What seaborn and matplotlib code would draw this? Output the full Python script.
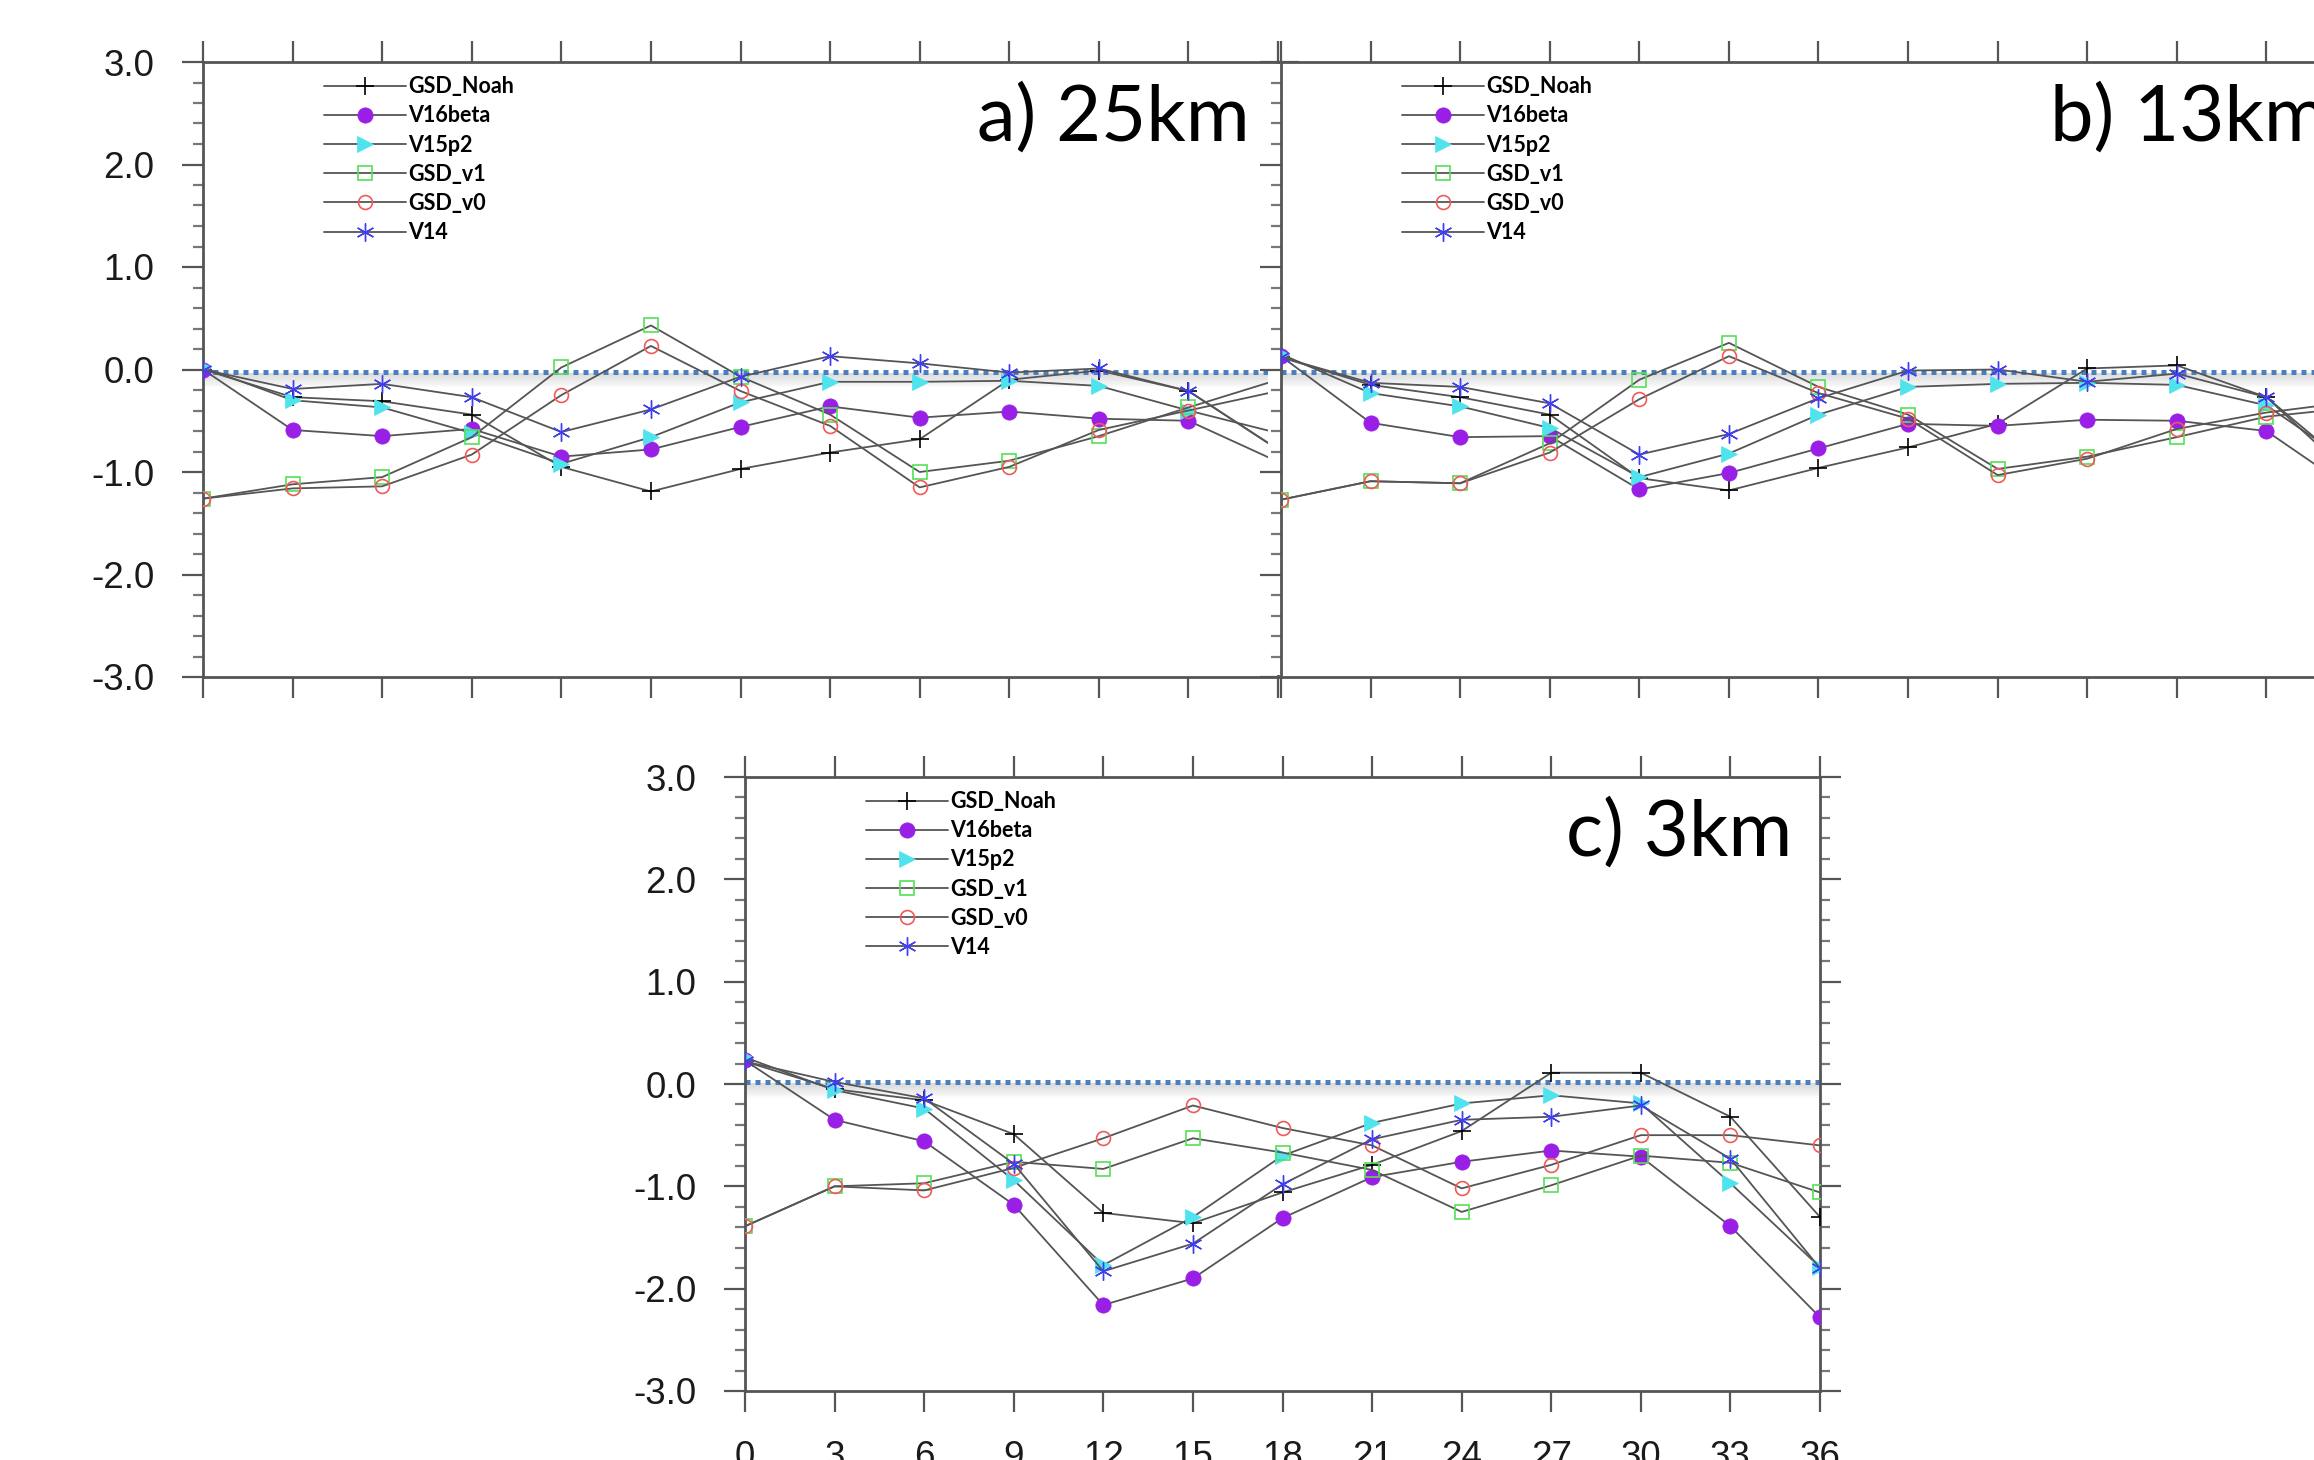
import matplotlib
matplotlib.use("Agg")
import matplotlib.pyplot as plt
from matplotlib.patches import Rectangle
from matplotlib.ticker import MultipleLocator, FormatStrFormatter
import seaborn as sns

# forecast hours
hours = [0, 3, 6, 9, 12, 15, 18, 21, 24, 27, 30, 33, 36]
names = ['GSD_Noah', 'V16beta', 'V15p2', 'GSD_v1', 'GSD_v0', 'V14']
y_ticks = [-3.0, -2.0, -1.0, 0.0, 1.0, 2.0, 3.0]

# a) 25km
a_noah = [0.0, -0.27, -0.31, -0.44, -0.95, -1.19, -0.97, -0.81, -0.68, -0.10, -0.01, -0.21, -0.78]
a_v16beta = [0.0, -0.59, -0.65, -0.58, -0.85, -0.78, -0.56, -0.36, -0.47, -0.41, -0.48, -0.50, -0.90]
a_v15p2 = [0.02, -0.30, -0.37, -0.62, -0.92, -0.66, -0.32, -0.12, -0.12, -0.11, -0.16, -0.40, -0.62]
a_gsd_v1 = [-1.26, -1.12, -1.05, -0.66, 0.02, 0.43, -0.07, -0.44, -1.00, -0.89, -0.65, -0.37, -0.10]
a_gsd_v0 = [-1.26, -1.16, -1.14, -0.83, -0.25, 0.23, -0.21, -0.55, -1.15, -0.95, -0.59, -0.40, -0.21]
a_v14 = [0.0, -0.19, -0.14, -0.27, -0.61, -0.39, -0.07, 0.13, 0.06, -0.03, 0.01, -0.21, -0.78]

# b) 13km
b_noah = [0.12, -0.15, -0.27, -0.44, -1.06, -1.18, -0.96, -0.76, -0.53, 0.01, 0.04, -0.27, -1.08]
b_v16beta = [0.13, -0.52, -0.66, -0.65, -1.17, -1.01, -0.77, -0.53, -0.55, -0.49, -0.50, -0.60, -1.20]
b_v15p2 = [0.15, -0.23, -0.36, -0.57, -1.05, -0.82, -0.44, -0.17, -0.14, -0.13, -0.15, -0.35, -0.95]
b_gsd_v1 = [-1.27, -1.09, -1.11, -0.72, -0.10, 0.26, -0.17, -0.44, -0.97, -0.85, -0.66, -0.46, -0.37]
b_gsd_v0 = [-1.27, -1.09, -1.11, -0.81, -0.29, 0.13, -0.23, -0.48, -1.03, -0.87, -0.58, -0.42, -0.31]
b_v14 = [0.12, -0.13, -0.17, -0.33, -0.83, -0.63, -0.28, -0.01, 0.00, -0.12, -0.04, -0.27, -1.00]

# c) 3km
c_noah = [0.22, -0.05, -0.16, -0.49, -1.26, -1.36, -1.06, -0.79, -0.46, 0.11, 0.11, -0.32, -1.30]
c_v16beta = [0.23, -0.35, -0.56, -1.18, -2.16, -1.90, -1.31, -0.91, -0.76, -0.65, -0.71, -1.39, -2.28]
c_v15p2 = [0.26, -0.06, -0.24, -0.94, -1.77, -1.30, -0.70, -0.38, -0.19, -0.11, -0.19, -0.97, -1.79]
c_gsd_v1 = [-1.39, -1.00, -0.97, -0.76, -0.83, -0.53, -0.67, -0.84, -1.25, -0.99, -0.70, -0.77, -1.06]
c_gsd_v0 = [-1.39, -1.00, -1.04, -0.82, -0.53, -0.21, -0.43, -0.60, -1.02, -0.79, -0.50, -0.50, -0.60]
c_v14 = [0.22, 0.02, -0.14, -0.78, -1.83, -1.56, -0.98, -0.54, -0.35, -0.32, -0.21, -0.73, -1.80]

panel_titles = ['a) 25km', 'b) 13km', 'c) 3km']
panel_data = [
    [a_noah, a_v16beta, a_v15p2, a_gsd_v1, a_gsd_v0, a_v14],
    [b_noah, b_v16beta, b_v15p2, b_gsd_v1, b_gsd_v0, b_v14],
    [c_noah, c_v16beta, c_v15p2, c_gsd_v1, c_gsd_v0, c_v14],
]
zero_level = [-0.02, -0.02, 0.02]

# marker styles (lines are all gray)
styles = {
    'GSD_Noah': dict(marker='+', markersize=13, markerfacecolor='black',
                     markeredgecolor='black', markeredgewidth=1.2),
    'V16beta': dict(marker='o', markersize=11, markerfacecolor='#9A1FE6',
                    markeredgecolor='#9A1FE6', markeredgewidth=0.5),
    'V15p2': dict(marker='>', markersize=11, markerfacecolor='#4FE3EE',
                  markeredgecolor='#4FE3EE', markeredgewidth=0.5),
    'GSD_v1': dict(marker='s', markersize=10, markerfacecolor='none',
                   markeredgecolor='#55E055', markeredgewidth=1.2),
    'GSD_v0': dict(marker='o', markersize=10, markerfacecolor='none',
                   markeredgecolor='#F05A5A', markeredgewidth=1.2),
    'V14': dict(marker=(6, 2, 0), markersize=13, markerfacecolor='none',
                markeredgecolor='#3F3FF0', markeredgewidth=1.0),
}

sns.set_style("ticks")
plt.rcParams['font.family'] = ['Liberation Sans', 'DejaVu Sans']
plt.rcParams['axes.unicode_minus'] = False

W, H = 2314, 1460
fig = plt.figure(figsize=(W / 100, H / 100), dpi=100)


def box(left, top, width, height):
    return [left / W, 1 - (top + height) / H, width / W, height / H]


ax_a = fig.add_axes(box(203, 62, 1075, 615), zorder=0)
ax_b = fig.add_axes(box(1281, 62, 1075, 615), zorder=2)
ax_c = fig.add_axes(box(745, 777, 1075, 614), zorder=0)
axes = [ax_a, ax_b, ax_c]

for i, ax in enumerate(axes):
    ax.set_facecolor('white')
    z = zero_level[i]
    # shadow under the zero line
    for k in range(12):
        ax.axhspan(z - 0.012 * (k + 1) - 0.01, z - 0.01, color='#9a9a9a', alpha=0.03, lw=0, zorder=1)
    ax.axhline(z, color='#4A7EBF', lw=3.6, ls=(0, (1, 1)), zorder=2)

    for name, vals in zip(names, panel_data[i]):
        sns.lineplot(x=hours, y=vals, ax=ax, color='#555555', linewidth=1.3,
                     label=name, zorder=3, **styles[name])

    ax.set_xlim(0, 36)
    ax.set_ylim(-3, 3)
    ax.set_xticks(hours)
    ax.set_yticks(y_ticks)
    ax.yaxis.set_minor_locator(MultipleLocator(0.2))
    ax.yaxis.set_major_formatter(FormatStrFormatter('%.1f'))
    ax.set_xlabel('')
    ax.set_ylabel('')
    for sp in ax.spines.values():
        sp.set_visible(True)
        sp.set_color('#555555')
        sp.set_linewidth(2)
    ax.tick_params(axis='both', which='major', direction='out', length=15, width=1.6,
                   color='#555555', top=True, right=True, labelsize=26.5,
                   labelcolor='#1a1a1a', pad=20)
    ax.tick_params(axis='y', which='minor', direction='out', length=7, width=1.6,
                   color='#777777', left=True, right=True)
    ax.tick_params(axis='x', which='minor', bottom=False, top=False)
    ax.tick_params(labelleft=(i != 1), labelbottom=(i == 2), labeltop=False, labelright=False)

    leg = ax.legend(loc='upper left', bbox_to_anchor=(0.1126, 0.977), frameon=False,
                    handlelength=3.8, handletextpad=0.1, labelspacing=0.38,
                    borderpad=0, borderaxespad=0,
                    prop={'family': 'Lato', 'weight': 'bold', 'size': 15.5})
    for t in leg.get_texts():
        t.set_color('black')

    ax.text(0.974, 0.872, panel_titles[i], transform=ax.transAxes, ha='right',
            va='baseline', fontsize=56, family='Lato', color='black', zorder=5)

# panel b sits on top of the right edge of panel a
fig.add_artist(Rectangle((1268 / W, 1 - 675 / H), 12 / W, 611 / H,
                         transform=fig.transFigure, facecolor='white',
                         edgecolor='none', zorder=1))

fig.savefig('out.png', dpi=100)
